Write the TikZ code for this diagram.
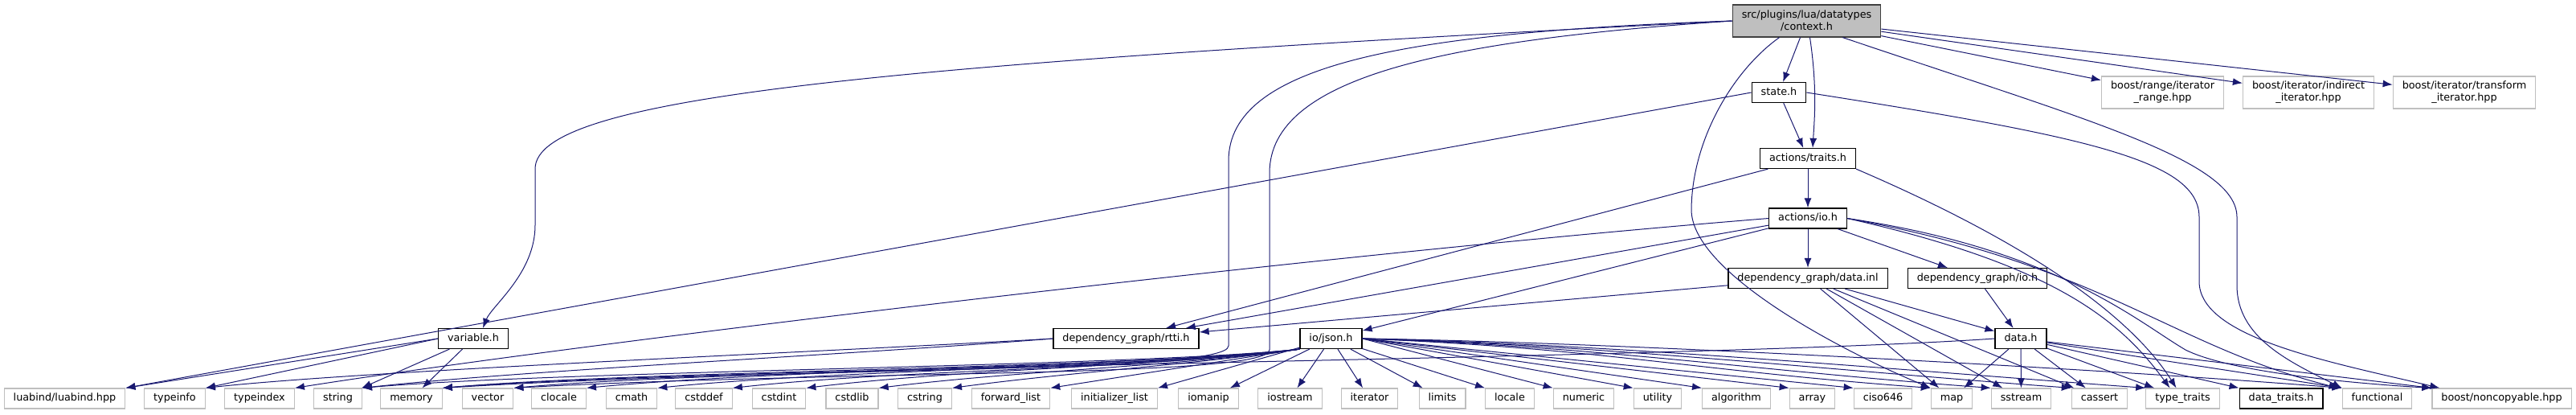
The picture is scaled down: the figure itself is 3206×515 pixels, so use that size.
\documentclass[tikz,border=0pt]{standalone}
\usepackage{fontspec}
\setmainfont{DejaVu Sans}
\usepackage{xcolor}
\usepackage{tikz}
\usetikzlibrary{arrows.meta}
\definecolor{edgeblue}{HTML}{191970}
\definecolor{leafgray}{HTML}{BFBFBF}
\definecolor{rootfill}{HTML}{BFBFBF}
\definecolor{rootedge}{HTML}{404040}

\begin{document}
\begin{tikzpicture}[
  x=0.5pt, y=0.5pt,
  font=\fontsize{6.4}{7.5}\selectfont,
  inc/.style={draw=black, line width=0.6pt, fill=white, inner xsep=5.75pt, inner ysep=0pt,
              minimum height=12.5pt, text height=4.8pt, text depth=1.4pt},
  sys/.style={inc, draw=leafgray},
  sys2/.style={draw=leafgray, line width=0.6pt, fill=white, align=center,
               inner xsep=5.75pt, inner ysep=0pt, minimum height=20pt},
  root/.style={sys2, draw=rootedge, fill=rootfill},
  dep/.style={draw=edgeblue, line width=0.5pt, -{Latex[length=6pt,width=4.5pt]}}
]
\useasboundingbox (0,0) rectangle (3206,-515);

\node[root] (ctx) at (2248.5,-26) {src/plugins/lua/datatypes\\/context.h};
\node[inc] (state) at (2214,-115) {state.h};
\node[sys2] (range) at (2691.5,-115) {boost/range/iterator\\\_range.hpp};
\node[sys2] (indirect) at (2873,-115) {boost/iterator/indirect\\\_iterator.hpp};
\node[sys2] (transform) at (3067,-115) {boost/iterator/transform\\\_iterator.hpp};
\node[inc] (traits) at (2250,-197) {actions/traits.h};
\node[inc] (aio) at (2250,-271.5) {actions/io.h};
\node[inc] (dgdata) at (2250,-346) {dependency\_graph/data.inl};
\node[inc] (dgio) at (2461,-346) {dependency\_graph/io.h};
\node[inc] (variable) at (589,-421) {variable.h};
\node[inc] (rtti) at (1401.5,-421) {dependency\_graph/rtti.h};
\node[inc] (json) at (1656.5,-421) {io/json.h};
\node[inc] (data) at (2515,-421) {data.h};

\node[sys] (luabind) at (80.5,-495.5) {luabind/luabind.hpp};
\node[sys] (typeinfo) at (217.5,-495.5) {typeinfo};
\node[sys] (typeindex) at (323,-495.5) {typeindex};
\node[sys] (string) at (420.5,-495.5) {string};
\node[sys] (memory) at (512,-495.5) {memory};
\node[sys] (vector) at (607,-495.5) {vector};
\node[sys] (clocale) at (695.5,-495.5) {clocale};
\node[sys] (cmath) at (786,-495.5) {cmath};
\node[sys] (cstddef) at (876,-495.5) {cstddef};
\node[sys] (cstdint) at (969.5,-495.5) {cstdint};
\node[sys] (cstdlib) at (1060.5,-495.5) {cstdlib};
\node[sys] (cstring) at (1151,-495.5) {cstring};
\node[sys] (fwdlist) at (1258,-495.5) {forward\_list};
\node[sys] (initlist) at (1387,-495.5) {initializer\_list};
\node[sys] (iomanip) at (1504,-495.5) {iomanip};
\node[sys] (iostream) at (1605.5,-495.5) {iostream};
\node[sys] (iterator) at (1704.5,-495.5) {iterator};
\node[sys] (limits) at (1795,-495.5) {limits};
\node[sys] (locale) at (1879,-495.5) {locale};
\node[sys] (numeric) at (1971,-495.5) {numeric};
\node[sys] (utility) at (2063,-495.5) {utility};
\node[sys] (algorithm) at (2161,-495.5) {algorithm};
\node[sys] (array) at (2255.5,-495.5) {array};
\node[sys] (ciso) at (2343.5,-495.5) {ciso646};
\node[sys] (map) at (2429,-495.5) {map};
\node[sys] (sstream) at (2515.5,-495.5) {sstream};
\node[sys] (cassert) at (2613,-495.5) {cassert};
\node[sys] (typetraits) at (2716.5,-495.5) {type\_traits};
\node[inc] (datatraits) at (2839,-495.5) {data\_traits.h};
\node[sys] (functional) at (2958.5,-495.5) {functional};
\node[sys] (noncopy) at (3113.5,-495.5) {boost/noncopyable.hpp};

\draw[dep] (ctx.west) .. controls (1100,-80) and (666,-120) .. (666,-210) -- (666,-280) .. controls (666,-340) and (612,-380) .. ([xshift=6pt]variable.north);
\draw[dep] (ctx.west) .. controls (1750,-40) and (1529,-80) .. (1529,-200) -- (1529,-430) .. controls (1529,-465) and (1000,-455) .. (memory.north east);
\draw[dep] (ctx.west) .. controls (1800,-50) and (1580,-95) .. (1580,-215) -- (1580,-435) .. controls (1580,-470) and (1050,-460) .. (vector.north east);
\draw[dep] (ctx) -- (state);
\draw[dep] ([xshift=2pt]ctx.south) .. controls (2262,-110) and (2258,-150) .. ([xshift=3pt]traits.north);
\draw[dep] (ctx) -- (range);
\draw[dep] (ctx) -- (indirect);
\draw[dep] (ctx) -- (transform);
\draw[dep] ([xshift=-17pt]ctx.south) .. controls (2160,-85) and (2106,-170) .. (2105,-260) .. controls (2104,-340) and (2300,-440) .. (map.north west);
\draw[dep] ([xshift=-24pt]ctx.south east) .. controls (2600,-150) and (2784,-200) .. (2784,-270) -- (2784,-355) .. controls (2784,-420) and (2850,-450) .. (functional.north west);

\draw[dep] (state.west) -- (luabind.north east);
\draw[dep] (state) -- (traits);
\draw[dep] (state.east) .. controls (2600,-170) and (2737,-200) .. (2737,-270) -- (2737,-350) .. controls (2737,-420) and (2900,-450) .. ([xshift=5pt]noncopy.north west);

\draw[dep] (traits) -- (aio);
\draw[dep] (traits) -- (rtti);
\draw[dep] (traits.south east) .. controls (2520,-300) and (2650,-390) .. ([xshift=-4pt]typetraits.north);

\draw[dep] (aio) -- (dgdata);
\draw[dep] (aio) -- (dgio);
\draw[dep] (aio.west) .. controls (1600,-320) and (700,-430) .. (typeindex.north east);
\draw[dep] (aio) -- (rtti);
\draw[dep] (aio) -- (json);
\draw[dep] (aio.east) .. controls (2560,-330) and (2640,-400) .. ([xshift=-8pt]typetraits.north);
\draw[dep] (aio.east) .. controls (2620,-330) and (2700,-430) .. ([xshift=-2pt]functional.north west);
\draw[dep] (aio.east) .. controls (2560,-310) and (2660,-400) .. (2720,-435) .. controls (2780,-465) and (2950,-478) .. (noncopy.north west);

\draw[dep] (dgdata) -- (rtti);
\draw[dep] (dgdata) -- (data);
\draw[dep] (dgdata) -- (map);
\draw[dep] (dgdata) -- (sstream);
\draw[dep] (dgdata) -- (cassert);
\draw[dep] (dgio) -- (data);

\draw[dep] (data.west) .. controls (2100,-447) and (900,-455) .. (memory.north east);
\draw[dep] (data) -- (map);
\draw[dep] (data) -- (sstream);
\draw[dep] (data) -- (cassert);
\draw[dep] (data) -- (typetraits);
\draw[dep] (data) -- (datatraits.north west);
\draw[dep] (data) -- (functional.north west);
\draw[dep] (data) -- (noncopy.north west);

\draw[dep] (variable.west) -- (luabind.north east);
\draw[dep] (variable.west) -- (typeinfo.north east);
\draw[dep] (variable) -- (string);
\draw[dep] (variable) -- (memory);

\draw[dep] (rtti.west) .. controls +(-250,-15) and +(200,22) .. (typeinfo.north east);
\draw[dep] (rtti.west) .. controls +(-250,-20) and +(200,22) .. (string.north east);

\draw[dep] (json.south west) .. controls +(-200,-22) and +(250,22) .. (string.north east);
\draw[dep] (json.south west) .. controls +(-200,-24) and +(250,22) .. (memory.north east);
\draw[dep] (json.south west) .. controls +(-200,-26) and +(250,22) .. (vector.north east);
\draw[dep] (json.south west) .. controls +(-200,-22) and +(250,24) .. (clocale.north east);
\draw[dep] (json.south west) .. controls +(-200,-24) and +(240,24) .. (cmath.north east);
\draw[dep] (json.south west) .. controls +(-200,-26) and +(220,24) .. (cstddef.north east);
\draw[dep] (json.south west) .. controls +(-180,-22) and +(200,24) .. (cstdint.north east);
\draw[dep] (json.south west) .. controls +(-160,-22) and +(180,22) .. (cstdlib.north east);
\draw[dep] (json.south west) .. controls +(-140,-20) and +(150,20) .. (cstring.north east);
\draw[dep] (json.south west) -- (fwdlist.north east);
\draw[dep] (json) -- (initlist.north east);
\draw[dep] (json) -- (iomanip);
\draw[dep] (json) -- (iostream);
\draw[dep] (json) -- (iterator);
\draw[dep] (json) -- (limits);
\draw[dep] (json) -- (locale.north west);
\draw[dep] (json.east) -- (numeric.north west);
\draw[dep] (json.east) -- (utility.north west);
\draw[dep] (json.east) -- (algorithm.north west);
\draw[dep] (json.east) -- (array.north west);
\draw[dep] (json.east) -- (ciso.north west);
\draw[dep] (json.east) .. controls +(300,-12) and +(-300,22) .. (map.north west);
\draw[dep] (json.east) .. controls +(300,-10) and +(-300,22) .. (sstream.north west);
\draw[dep] (json.east) .. controls +(300,-8) and +(-300,22) .. (cassert.north west);
\draw[dep] (json.east) .. controls +(300,-6) and +(-300,22) .. (typetraits.north west);
\draw[dep] (json.east) .. controls +(300,-4) and +(-300,24) .. (functional.north west);
\end{tikzpicture}
\end{document}
